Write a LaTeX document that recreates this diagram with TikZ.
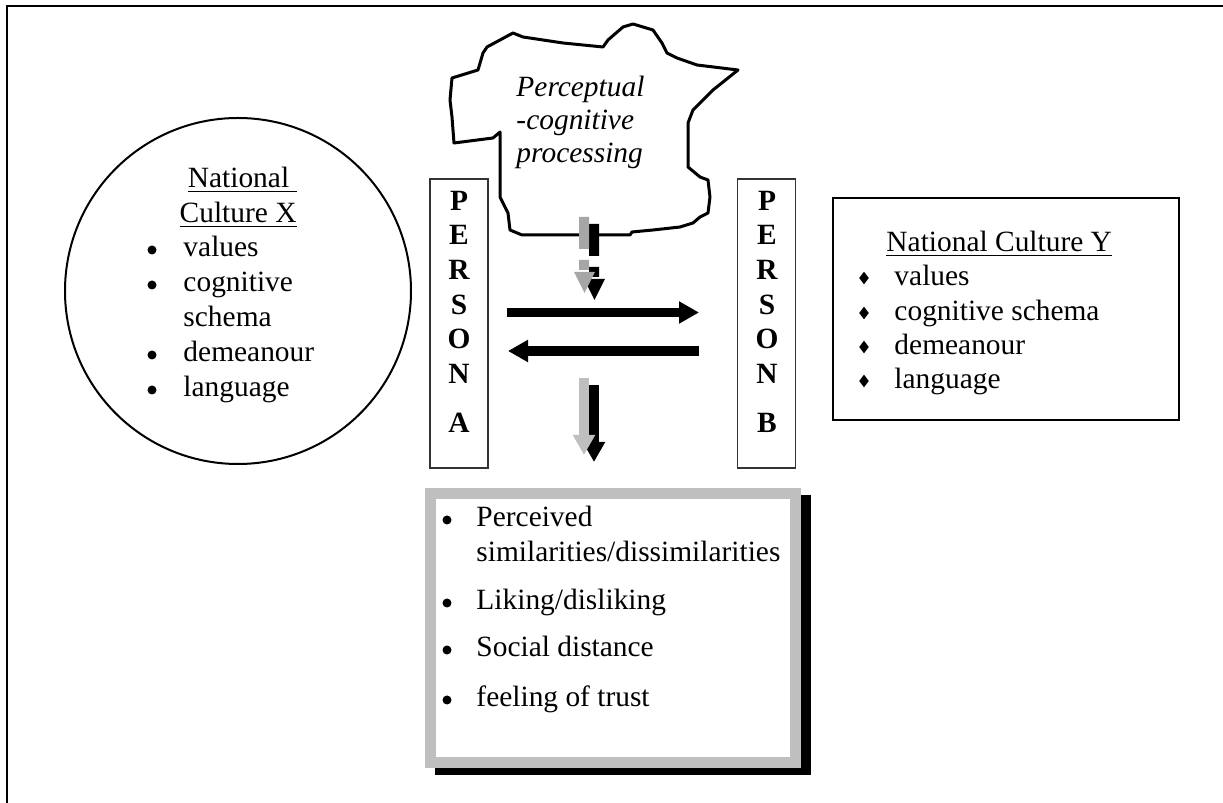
\documentclass[tikz,border=0pt]{standalone}
\usepackage{fontspec}
\setmainfont{Liberation Serif}
\usetikzlibrary{arrows.meta,positioning,calc,shapes.geometric}
\newlength\pxu \setlength\pxu{0.408pt}
\tikzset{
  txt/.style={font=\fontsize{12}{13.9}\selectfont,inner sep=0pt,anchor=base west},
  itx/.style={txt,font=\fontsize{12}{13.9}\selectfont\itshape},
  ltr/.style={font=\fontsize{12}{13.9}\selectfont\bfseries,inner sep=0pt,anchor=base},
  pbox/.style={draw=black!80,line width=1.2\pxu,minimum width=58\pxu,minimum height=289\pxu,inner sep=0pt},
  dot/.style={circle,fill,inner sep=0pt,minimum size=9\pxu},
  dia/.style={diamond,fill,inner sep=0pt,minimum width=10\pxu,minimum height=13\pxu},
  barr/.style={line width=#1\pxu,-{Triangle[length=8.16pt,width=8.57pt]}},
}
\begin{document}
\begin{tikzpicture}[x=\pxu,y=-\pxu]
 \useasboundingbox (0,0) rectangle (1223,803);
 \draw[line width=2.5\pxu] (7,803) -- (7,6) -- (1223,6);
 \node[draw,circle,line width=2\pxu,minimum size=346\pxu,inner sep=0pt] (cx) at (238,291) {};
 \node[txt,anchor=base east] (cxa) at (297,188) {\underline{National\ }};
 \node[txt,anchor=base east] (cxb) at (297,223) {\underline{Culture X}};
 \foreach \y/\t [count=\i] in {257/values,292/cognitive,327/schema,362/demeanour,397/language}
  \node[txt] (cxt\i) at (183,\y) {\t};
 \foreach \y [count=\i] in {257,292,362,397} \node[dot] (cxd\i) at (152,\y-7) {};
 \node[draw,line width=1.5\pxu,minimum width=346\pxu,minimum height=222\pxu,inner sep=0pt] (cy) at (1006,309) {};
 \node[txt] (cyt) at (886,252) {\underline{National Culture Y}};
 \foreach \y/\t [count=\i] in {286/values,321/cognitive schema,355/demeanour,389/language}
  {\node[txt] (cyt\i) at (894,\y) {\t}; \node[dia] (cyd\i) at (864,\y-8) {};}
 \node[pbox] (pa) at (459,323.5) {};
 \node[pbox] (pb) at (766.5,323.5) {};
 \foreach \l/\y in {P/211,E/245,R/280,S/315,O/349,N/384} {\node[ltr] (pa\l) at (459,\y) {\l}; \node[ltr] (pb\l) at (767,\y) {\l};}
 \node[ltr] (paA) at (459,433) {A}; \node[ltr] (pbB) at (767,433) {B};
 \draw[line width=3\pxu,line join=round] (487,47) -- (500,40) -- (513,33) -- (523,37) -- (563,43) -- (603,47) -- (608,40) -- (623,27) -- (633,24) -- (653,30) -- (662,43) -- (667,53) -- (677,58) -- (697,65) -- (738,70) -- (713,90) -- (693,110) -- (688,123) -- (688,167) -- (700,177) -- (708,180) -- (710,197) -- (708,213) -- (700,217) -- (693,223) -- (680,227) -- (653,230) -- (632,232) -- (630,235) -- (522,235) -- (510,230) -- (508,213) -- (503,203) -- (500,197) -- (500,132) -- (493,138) -- (454,143) -- (452,117) -- (450,100) -- (452,78) -- (478,70) -- (483,53) -- cycle;
 \foreach \y/\t [count=\i] in {97/Perceptual,130/-cognitive,163/processing} \node[itx] (proc\i) at (516,\y) {\t};
 \foreach \c/\dx/\dy in {black/10/7,gray!70/0/0}
  \fill[\c] (579+\dx,217+\dy) rectangle ++(10,32) (579+\dx,260+\dy) rectangle ++(10,10) (574+\dx,272+\dy) -- ++(21,0) -- ++(-10.5,21) -- cycle;
 \coordinate (r1) at (507,312.5); \coordinate (r2) at (699,312.5);
 \coordinate (l1) at (699,351); \coordinate (l2) at (508,351);
 \draw[barr=9] (r1) -- (r2);
 \draw[barr=10] (l1) -- (l2);
 \coordinate (d1) at (584,378); \coordinate (d2) at (584,455);
 \draw[barr=10,black] ($(d1)+(10,7)$) -- ($(d2)+(10,7)$);
 \draw[barr=10,gray!50] (d1) -- (d2);
 \node[fill=black,minimum width=376\pxu,minimum height=280\pxu,inner sep=0pt] (outsh) at (623,635) {};
 \node[draw=gray!50,fill=white,line width=11\pxu,minimum width=365\pxu,minimum height=269\pxu,inner sep=0pt] (out) at (613,628) {};
 \node[txt] (o1) at (476,527) {Perceived};
 \node[txt] (o2) at (476,562) {similarities/dissimilarities};
 \node[txt] (o3) at (476,610) {Liking/disliking};
 \node[txt] (o4) at (476,657) {Social distance};
 \node[txt] (o5) at (476,707) {feeling of trust};
 \foreach \y [count=\i] in {527,610,657,707} \node[dot] (od\i) at (447,\y-7) {};
\end{tikzpicture}
\end{document}
